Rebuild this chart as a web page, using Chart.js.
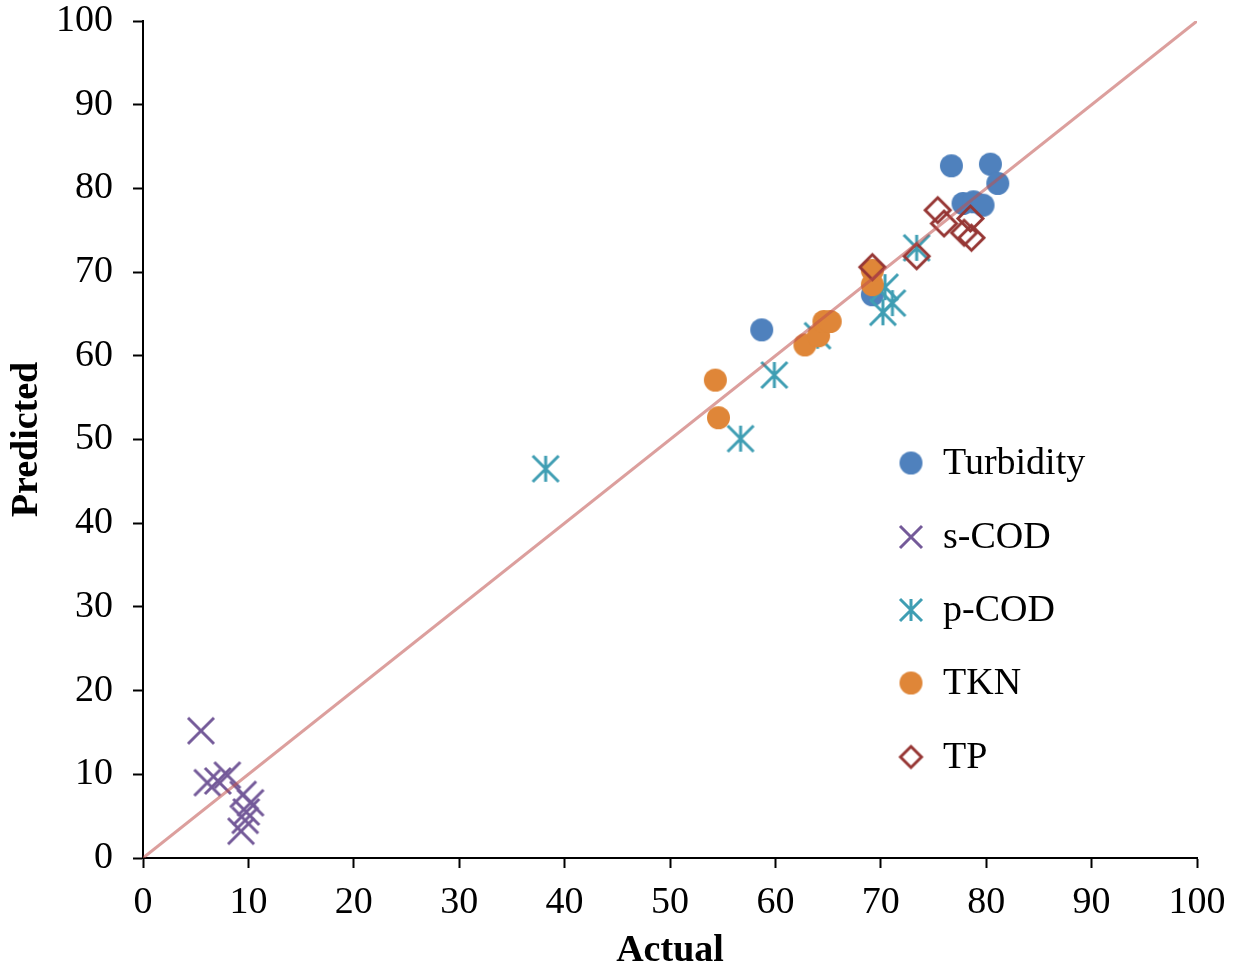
<!DOCTYPE html>
<html>
<head>
<meta charset="utf-8">
<title>Actual vs Predicted</title>
<script src="https://cdn.jsdelivr.net/npm/chart.js@4/dist/chart.umd.min.js"></script>
<style>
  html, body { margin: 0; padding: 0; background: #ffffff; }
  #wrap { width: 1237px; height: 974px; position: relative; }
</style>
</head>
<body>
<div id="wrap"><canvas id="chart" width="1237" height="974"></canvas></div>
<script>
// Actual / predicted pairs for each water-quality parameter
const turbidityActual    = [76.7, 80.4, 81.1, 77.8, 78.8, 79.7, 58.7, 69.2];
const turbidityPredicted = [82.7, 82.9, 80.6, 78.2, 78.4, 78.0, 63.1, 67.3];

const sCodActual    = [5.5, 6.1, 7.1, 8.0, 9.5, 10.2, 9.8, 9.7, 9.3];
const sCodPredicted = [15.2, 9.0, 9.2, 9.9, 7.6, 6.6, 5.5, 4.5, 3.2];

const pCodActual    = [38.2, 56.7, 59.9, 64.0, 70.2, 71.1, 70.4, 73.4];
const pCodPredicted = [46.5, 50.1, 57.7, 62.4, 65.2, 66.3, 68.2, 72.9];

const tknActual    = [54.3, 54.6, 62.8, 64.1, 64.6, 65.2, 69.2, 69.2];
const tknPredicted = [57.1, 52.6, 61.3, 62.4, 64.1, 64.1, 68.5, 70.2];

const tpActual    = [69.2, 73.4, 75.4, 76.0, 78.5, 77.9, 78.6];
const tpPredicted = [70.6, 71.9, 77.4, 75.8, 76.4, 74.7, 74.1];

// 1:1 reference line
const identityX = [0, 100];
const identityY = [0, 100];

const seriesNames = ['Turbidity', 's-COD', 'p-COD', 'TKN', 'TP'];
const axisTicks = [0, 10, 20, 30, 40, 50, 60, 70, 80, 90, 100];

const colors = {
  turbidity: '#4F81BD',
  sCod: '#745A99',
  pCod: '#3F9EB3',
  tkn: '#DF8638',
  tp: '#963634',
  identity: 'rgba(192, 80, 77, 0.55)'
};

const FONT = "'Liberation Serif', 'Times New Roman', serif";

function pairs(xs, ys) {
  return xs.map((x, i) => ({ x: x, y: ys[i] }));
}

// Marker glyphs drawn into small canvases, used for points and legend
function makeMarker(kind, half, color) {
  const pad = 3;
  const size = Math.ceil(2 * half + 2 * pad);
  const cv = document.createElement('canvas');
  cv.width = size; cv.height = size;
  const c = cv.getContext('2d');
  const m = size / 2;
  c.lineWidth = 3;
  c.strokeStyle = color;
  c.fillStyle = color;
  c.lineCap = 'butt';
  if (kind === 'circle') {
    c.beginPath(); c.arc(m, m, half, 0, Math.PI * 2); c.fill();
  } else if (kind === 'cross') {
    c.beginPath();
    c.moveTo(m - half, m - half); c.lineTo(m + half, m + half);
    c.moveTo(m + half, m - half); c.lineTo(m - half, m + half);
    c.stroke();
  } else if (kind === 'asterisk') {
    c.beginPath();
    c.moveTo(m, m - half); c.lineTo(m, m + half);
    c.moveTo(m - half, m - half); c.lineTo(m + half, m + half);
    c.moveTo(m + half, m - half); c.lineTo(m - half, m + half);
    c.stroke();
  } else if (kind === 'diamond') {
    c.lineJoin = 'miter';
    c.beginPath();
    c.moveTo(m, m - half); c.lineTo(m + half, m);
    c.lineTo(m, m + half); c.lineTo(m - half, m);
    c.closePath(); c.stroke();
  }
  return cv;
}

const markerDefs = [
  { kind: 'circle',   color: colors.turbidity, half: 11.5, legendHalf: 11.5 },
  { kind: 'cross',    color: colors.sCod,      half: 13,   legendHalf: 11 },
  { kind: 'asterisk', color: colors.pCod,      half: 13,   legendHalf: 11 },
  { kind: 'circle',   color: colors.tkn,       half: 11.5, legendHalf: 11.5 },
  { kind: 'diamond',  color: colors.tp,        half: 12.5, legendHalf: 10.5 }
];
const pointImages  = markerDefs.map(d => makeMarker(d.kind, d.half, d.color));
const legendImages = markerDefs.map(d => makeMarker(d.kind, d.legendHalf, d.color));

function scatterSet(i, xs, ys, order) {
  return {
    type: 'scatter',
    label: seriesNames[i],
    data: pairs(xs, ys),
    pointStyle: pointImages[i],
    pointRadius: 13,
    borderColor: markerDefs[i].color,
    backgroundColor: markerDefs[i].color,
    order: order
  };
}

// Legend drawn inside the plot area, one row per series
const insideLegend = {
  id: 'insideLegend',
  afterDatasetsDraw(chart) {
    const ctx = chart.ctx;
    const markerX = 911, textX = 943;
    const rows = [463, 537, 610, 683, 757];
    ctx.save();
    ctx.font = '38px ' + FONT;
    ctx.fillStyle = '#000000';
    ctx.textBaseline = 'middle';
    ctx.textAlign = 'left';
    seriesNames.forEach((name, i) => {
      const img = legendImages[i];
      ctx.drawImage(img, markerX - img.width / 2, rows[i] - img.height / 2);
      ctx.fillText(name, textX, rows[i] + 1);
    });
    ctx.restore();
  }
};

const tickFont = { family: FONT, size: 38, lineHeight: 1.1 };
const titleFont = { family: FONT, size: 38, weight: 'bold', lineHeight: 1.2 };

new Chart(document.getElementById('chart'), {
  type: 'scatter',
  data: {
    datasets: [
      {
        type: 'line',
        label: '1:1',
        data: pairs(identityX, identityY),
        borderColor: colors.identity,
        borderWidth: 3,
        pointRadius: 0,
        fill: false,
        showLine: true,
        order: 0
      },
      scatterSet(4, tpActual, tpPredicted, 1),
      scatterSet(3, tknActual, tknPredicted, 2),
      scatterSet(2, pCodActual, pCodPredicted, 3),
      scatterSet(1, sCodActual, sCodPredicted, 4),
      scatterSet(0, turbidityActual, turbidityPredicted, 5)
    ]
  },
  options: {
    responsive: false,
    animation: false,
    events: [],
    layout: { padding: 0 },
    plugins: { legend: { display: false }, tooltip: { enabled: false } },
    scales: {
      x: {
        type: 'linear',
        min: 0, max: 100,
        afterBuildTicks(scale) { scale.ticks = axisTicks.map(v => ({ value: v })); },
        afterFit(scale) {
          scale.height = 116;
          scale.paddingLeft = 0;
          scale.paddingRight = 40;
        },
        border: { display: true, color: '#000000', width: 2 },
        grid: { display: true, drawOnChartArea: false, drawTicks: true, tickLength: 10, tickColor: '#000000', tickWidth: 2 },
        ticks: { color: '#000000', font: tickFont, padding: 14, maxRotation: 0 },
        title: { display: true, text: 'Actual', color: '#000000', font: titleFont, padding: { top: 0, bottom: 0 } }
      },
      y: {
        type: 'linear',
        min: 0, max: 100,
        afterBuildTicks(scale) { scale.ticks = axisTicks.map(v => ({ value: v })); },
        afterFit(scale) {
          scale.width = 143;
          scale.paddingTop = 21;
          scale.paddingBottom = 0;
        },
        border: { display: true, color: '#000000', width: 2 },
        grid: { display: true, drawOnChartArea: false, drawTicks: true, tickLength: 10, tickColor: '#000000', tickWidth: 2 },
        ticks: { color: '#000000', font: tickFont, padding: 20 },
        title: { display: true, text: 'Predicted', color: '#000000', font: titleFont, padding: { top: 4, bottom: 0 } }
      }
    }
  },
  plugins: [insideLegend]
});
</script>
</body>
</html>
